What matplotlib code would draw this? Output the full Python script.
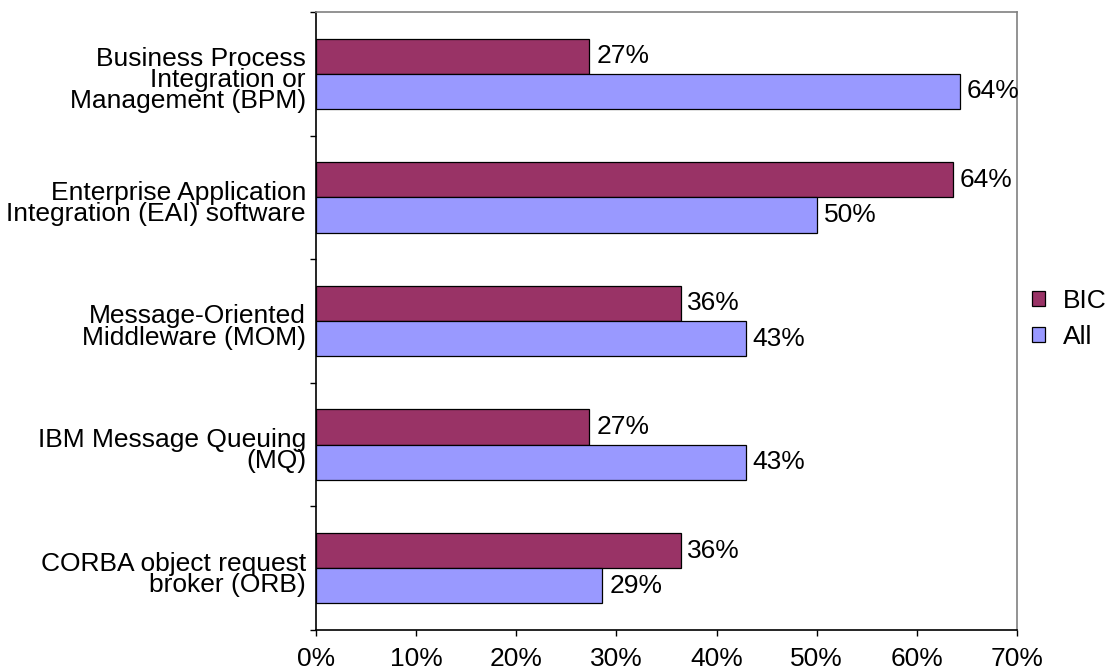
import matplotlib
matplotlib.use("Agg")
import matplotlib.pyplot as plt
import matplotlib.transforms as mtransforms
import numpy as np
from matplotlib.patches import Patch
from matplotlib.ticker import FuncFormatter, FixedLocator, NullFormatter

plt.rcParams['font.family'] = ['Liberation Sans', 'DejaVu Sans']

categories = [
    "Business Process\nIntegration or\nManagement (BPM)",
    "Enterprise Application\nIntegration (EAI) software",
    "Message-Oriented\nMiddleware (MOM)",
    "IBM Message Queuing\n(MQ)",
    "CORBA object request\nbroker (ORB)",
]
bic = [27.3, 63.6, 36.4, 27.3, 36.4]
all_resp = [64.3, 50.0, 42.9, 42.9, 28.6]
series_names = ["BIC", "All"]
colors = ["#993366", "#9999FF"]

fig = plt.figure(figsize=(11.1, 6.71), dpi=100)
ax = fig.add_axes([316 / 1110, 41 / 671, 701 / 1110, 618 / 671])

y = np.arange(len(categories))
h = 0.285
ax.barh(y - h / 2, bic, height=h, color=colors[0], edgecolor="black", linewidth=0.9)
ax.barh(y + h / 2, all_resp, height=h, color=colors[1], edgecolor="black", linewidth=0.9)

fs = 19
for vals, off in ((bic, -h / 2), (all_resp, h / 2)):
    for yi, v in zip(y, vals):
        ax.annotate(f"{v:.0f}%", xy=(v, yi + off), xytext=(5, 0),
                    textcoords="offset points", ha="left", va="center", fontsize=fs)

ax.set_xlim(0, 70)
ax.set_ylim(len(categories) - 0.5, -0.5)

ax.set_xticks(np.arange(0, 71, 10))
ax.xaxis.set_major_formatter(FuncFormatter(lambda v, p: f"{v:.0f}%"))
ax.tick_params(axis="x", direction="out", length=4, width=1, pad=8, labelsize=fs)

# tick marks sit between categories; names are written at each category centre
ax.yaxis.set_major_locator(FixedLocator(np.arange(-0.5, len(categories), 1.0)))
ax.yaxis.set_major_formatter(NullFormatter())
ax.tick_params(axis="y", which="major", direction="out", length=4, width=1)

label_tf = mtransforms.blended_transform_factory(ax.transAxes, ax.transData) + \
    mtransforms.ScaledTranslation(-10 / 100, -6 / 100, fig.dpi_scale_trans)
for yi, name in zip(y, categories):
    ax.text(0, yi, name, transform=label_tf, ha="right", va="center",
            multialignment="right", fontsize=fs, linespacing=0.85)

for s in ("left", "bottom"):
    ax.spines[s].set_color("black")
    ax.spines[s].set_linewidth(1.2)
for s in ("top", "right"):
    ax.spines[s].set_color("#808080")
    ax.spines[s].set_linewidth(1.2)

handles = [Patch(facecolor=c, edgecolor="black", linewidth=0.9) for c in colors]
fig.legend(handles, series_names, loc="center left",
           bbox_to_anchor=(1027 / 1110, 1 - 319 / 671), frameon=False,
           fontsize=fs, handlelength=0.5, handleheight=0.5,
           handletextpad=0.65, labelspacing=0.45, borderpad=0.2,
           borderaxespad=0.0)

fig.savefig("out.png", dpi=100)
